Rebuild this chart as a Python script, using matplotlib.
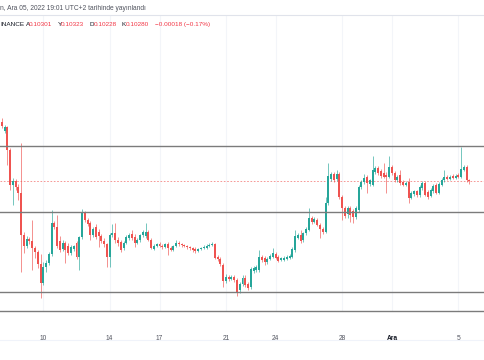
import matplotlib
matplotlib.use("Agg")
import matplotlib.pyplot as plt
import numpy as np

# ---- data: DOGE 4h candles (prices), Nov 7 12:00 -> Dec 5 ----
start_day = 7.5          # day number (November based), Nov 7 12:00
bar_hours = 4

opens = [0.1146, 0.1128, 0.1136, 0.1090, 0.1020, 0.1028, 0.1016, 0.1004, 0.0920, 0.0898,
         0.0912, 0.0908, 0.0894, 0.0886, 0.0862, 0.0824, 0.0856, 0.0864, 0.0882, 0.0944,
         0.0936, 0.0908, 0.0892, 0.0904, 0.0898, 0.0884, 0.0892, 0.0904, 0.0876, 0.0916,
         0.0964, 0.0950, 0.0944, 0.0920, 0.0936, 0.0926, 0.0918, 0.0908, 0.0902, 0.0876,
         0.0920, 0.0924, 0.0910, 0.0906, 0.0894, 0.0904, 0.0914, 0.0922, 0.0916, 0.0904,
         0.0910, 0.0920, 0.0918, 0.0926, 0.0910, 0.0892, 0.0898, 0.0902, 0.0898, 0.0896,
         0.0902, 0.0894, 0.0890, 0.0898, 0.0904, 0.0902, 0.0900, 0.0898, 0.0896, 0.0894,
         0.0892, 0.0888, 0.0892, 0.0894, 0.0894, 0.0898, 0.0900, 0.0902, 0.0876, 0.0872,
         0.0860, 0.0828, 0.0836, 0.0832, 0.0836, 0.0830, 0.0810, 0.0822, 0.0834, 0.0822,
         0.0816, 0.0848, 0.0850, 0.0850, 0.0876, 0.0874, 0.0866, 0.0872, 0.0876, 0.0882,
         0.0876, 0.0870, 0.0870, 0.0872, 0.0874, 0.0876, 0.0890, 0.0914, 0.0920, 0.0910,
         0.0924, 0.0930, 0.0954, 0.0946, 0.0950, 0.0940, 0.0932, 0.0926, 0.0984, 0.1032,
         0.1042, 0.1032, 0.1042, 0.0996, 0.0974, 0.0962, 0.0974, 0.0968, 0.0956, 0.0970,
         0.1016, 0.1026, 0.1036, 0.1022, 0.1020, 0.1046, 0.1054, 0.1048, 0.1044, 0.1040,
         0.1036, 0.1056, 0.1044, 0.1030, 0.1040, 0.1026, 0.1020, 0.1026, 0.0994, 0.1002,
         0.1008, 0.1000, 0.1014, 0.1024, 0.1006, 0.0998, 0.1008, 0.1020, 0.1004, 0.1020,
         0.1030, 0.1036, 0.1032, 0.1038, 0.1034, 0.1040, 0.1036, 0.1050, 0.1056, 0.10301]

closes = [0.1138, 0.1136, 0.1090, 0.1020, 0.1028, 0.1016, 0.1004, 0.0920, 0.0898, 0.0912,
          0.0908, 0.0894, 0.0886, 0.0862, 0.0824, 0.0856, 0.0864, 0.0882, 0.0944, 0.0936,
          0.0898, 0.0890, 0.0904, 0.0890, 0.0884, 0.0896, 0.0898, 0.0876, 0.0916, 0.0964,
          0.0950, 0.0942, 0.0920, 0.0932, 0.0916, 0.0918, 0.0908, 0.0902, 0.0876, 0.0920,
          0.0924, 0.0910, 0.0904, 0.0890, 0.0904, 0.0916, 0.0920, 0.0914, 0.0904, 0.0910,
          0.0920, 0.0926, 0.0926, 0.0910, 0.0894, 0.0898, 0.0902, 0.0898, 0.0896, 0.0902,
          0.0894, 0.0890, 0.0898, 0.0904, 0.0902, 0.0900, 0.0898, 0.0896, 0.0894, 0.0890,
          0.0888, 0.0892, 0.0894, 0.0896, 0.0898, 0.0900, 0.0902, 0.0874, 0.0872, 0.0862,
          0.0828, 0.0836, 0.0832, 0.0836, 0.0830, 0.0806, 0.0822, 0.0834, 0.0820, 0.0814,
          0.0852, 0.0854, 0.0856, 0.0876, 0.0870, 0.0866, 0.0872, 0.0878, 0.0884, 0.0874,
          0.0868, 0.0874, 0.0874, 0.0876, 0.0878, 0.0892, 0.0918, 0.0920, 0.0908, 0.0924,
          0.0932, 0.0954, 0.0946, 0.0952, 0.0940, 0.0932, 0.0926, 0.0984, 0.1038, 0.1042,
          0.1030, 0.1042, 0.0996, 0.0974, 0.0958, 0.0974, 0.0960, 0.0956, 0.0974, 0.1016,
          0.1026, 0.1034, 0.1024, 0.1030, 0.1050, 0.1054, 0.1044, 0.1038, 0.1036, 0.1036,
          0.1056, 0.1044, 0.1030, 0.1036, 0.1024, 0.1020, 0.1024, 0.0994, 0.1004, 0.1008,
          0.1000, 0.1016, 0.1024, 0.1000, 0.0996, 0.1010, 0.1018, 0.1004, 0.1022, 0.1030,
          0.1036, 0.1032, 0.1036, 0.1034, 0.1038, 0.1036, 0.1052, 0.1056, 0.1030, 0.10280]

highs = [0.1154, 0.1140, 0.1138, 0.1094, 0.1034, 0.1032, 0.1022, 0.1104, 0.0926, 0.0918,
         0.0916, 0.0950, 0.0898, 0.0890, 0.0882, 0.0866, 0.0870, 0.0886, 0.0970, 0.0948,
         0.0960, 0.0918, 0.0910, 0.0908, 0.0904, 0.0900, 0.0900, 0.0908, 0.0918, 0.0972,
         0.0968, 0.0954, 0.0948, 0.0936, 0.0942, 0.0932, 0.0922, 0.0914, 0.0904, 0.0924,
         0.0942, 0.0944, 0.0916, 0.0910, 0.0908, 0.0920, 0.0924, 0.0930, 0.0922, 0.0914,
         0.0922, 0.0930, 0.0944, 0.0930, 0.0914, 0.0902, 0.0904, 0.0906, 0.0902, 0.0904,
         0.0906, 0.0898, 0.0900, 0.0910, 0.0908, 0.0904, 0.0902, 0.0900, 0.0898, 0.0896,
         0.0896, 0.0894, 0.0896, 0.0900, 0.0902, 0.0904, 0.0906, 0.0904, 0.0880, 0.0876,
         0.0864, 0.0842, 0.0840, 0.0840, 0.0840, 0.0834, 0.0826, 0.0840, 0.0840, 0.0826,
         0.0856, 0.0858, 0.0860, 0.0890, 0.0880, 0.0878, 0.0876, 0.0882, 0.0894, 0.0886,
         0.0880, 0.0876, 0.0878, 0.0880, 0.0882, 0.0896, 0.0930, 0.0924, 0.0930, 0.0926,
         0.0936, 0.0974, 0.0958, 0.0956, 0.0954, 0.0944, 0.0936, 0.0996, 0.1064, 0.1046,
         0.1046, 0.1050, 0.1046, 0.1000, 0.0978, 0.0978, 0.0978, 0.0972, 0.0978, 0.1020,
         0.1030, 0.1042, 0.1040, 0.1032, 0.1078, 0.1058, 0.1058, 0.1052, 0.1064, 0.1046,
         0.1078, 0.1060, 0.1048, 0.1040, 0.1050, 0.1030, 0.1028, 0.1034, 0.1008, 0.1010,
         0.1010, 0.1020, 0.1028, 0.1028, 0.1010, 0.1014, 0.1022, 0.1024, 0.1026, 0.1034,
         0.1050, 0.1040, 0.1040, 0.1042, 0.1042, 0.1044, 0.1096, 0.1060, 0.1060, 0.10323]

lows = [0.1134, 0.1124, 0.1060, 0.1010, 0.0980, 0.1010, 0.0990, 0.0846, 0.0884, 0.0894,
        0.0902, 0.0850, 0.0874, 0.0854, 0.0794, 0.0820, 0.0846, 0.0860, 0.0878, 0.0932,
        0.0894, 0.0886, 0.0888, 0.0864, 0.0880, 0.0880, 0.0888, 0.0872, 0.0850, 0.0912,
        0.0946, 0.0938, 0.0910, 0.0916, 0.0912, 0.0896, 0.0904, 0.0896, 0.0856, 0.0856,
        0.0916, 0.0904, 0.0898, 0.0886, 0.0890, 0.0902, 0.0910, 0.0910, 0.0896, 0.0902,
        0.0906, 0.0916, 0.0914, 0.0908, 0.0892, 0.0890, 0.0896, 0.0896, 0.0892, 0.0894,
        0.0880, 0.0888, 0.0888, 0.0896, 0.0898, 0.0896, 0.0896, 0.0892, 0.0890, 0.0886,
        0.0884, 0.0886, 0.0890, 0.0892, 0.0892, 0.0896, 0.0898, 0.0872, 0.0868, 0.0858,
        0.0816, 0.0824, 0.0828, 0.0830, 0.0826, 0.0798, 0.0804, 0.0818, 0.0816, 0.0810,
        0.0812, 0.0844, 0.0846, 0.0846, 0.0866, 0.0860, 0.0862, 0.0870, 0.0874, 0.0872,
        0.0866, 0.0868, 0.0868, 0.0870, 0.0872, 0.0874, 0.0886, 0.0912, 0.0904, 0.0906,
        0.0920, 0.0928, 0.0942, 0.0944, 0.0938, 0.0914, 0.0922, 0.0924, 0.0980, 0.1028,
        0.1026, 0.1028, 0.0992, 0.0950, 0.0954, 0.0954, 0.0946, 0.0944, 0.0952, 0.0966,
        0.1012, 0.1022, 0.1004, 0.1018, 0.1018, 0.1042, 0.1040, 0.1034, 0.1034, 0.1004,
        0.1034, 0.1040, 0.1026, 0.1026, 0.1020, 0.1018, 0.1018, 0.0984, 0.0992, 0.0998,
        0.0996, 0.0996, 0.1010, 0.0998, 0.0992, 0.0996, 0.1004, 0.1002, 0.1002, 0.1018,
        0.1026, 0.1030, 0.1030, 0.1032, 0.1032, 0.1034, 0.1034, 0.1048, 0.1026, 0.10228]

tick_days = [10, 14, 17, 21, 24, 28, 31, 35]
tick_labels = ["10", "14", "17", "21", "24", "28", "Ara", "5"]
levels = [0.1098, 0.0966, 0.0806]
last_price = 0.10280
y_range = (0.0768, 0.1360)
x_range = (7.3916, 36.608)

header = "n, Ara 05, 2022 19:01 UTC+2 tarihinde yayınlandı"
legend_parts = [("INANCE", 0.0, "#131722"), ("A", 26.0, "#131722"), ("0.10301", 29.0, "#f23645"),
                ("Y", 57.5, "#131722"), ("0.10323", 61.0, "#f23645"), ("D", 89.5, "#131722"),
                ("0.10228", 93.5, "#f23645"), ("K", 122.0, "#131722"), ("0.10280", 126.0, "#f23645"),
                ("\u22120.00018 (\u22120.17%)", 155.0, "#f23645")]

GREEN = "#26a69a"
RED = "#ef5350"
W, H = 485, 360

plt.rcParams['font.family'] = ['Liberation Sans', 'DejaVu Sans']

fig = plt.figure(figsize=(W / 100, H / 100), dpi=100)
fig.patch.set_facecolor("white")
ax = fig.add_axes([0, 1 - 311 / H, 1, 296 / H])

o = np.array(opens)
c = np.array(closes)
hi = np.array(highs)
lo = np.array(lows)
x = start_day + np.arange(len(o)) * bar_hours / 24.0
up = c >= o
cols = np.where(up, GREEN, RED)

# grid
for d in tick_days:
    ax.axvline(d, color="#f3f5f9", lw=0.8, zorder=0)

# wicks and bodies
ax.vlines(x, lo, hi, colors=cols, lw=0.6, alpha=0.75, zorder=2)
body_h = np.maximum(np.abs(c - o), 0.00012)
ax.bar(x, body_h, bottom=np.minimum(o, c), width=0.12, color=cols, linewidth=0, zorder=3)

# horizontal drawn levels
for lv in levels:
    ax.axhline(lv, color="#7b7b7b", lw=1.0, zorder=4)
ax.axhline(last_price, color=RED, lw=0.6, ls=(0, (2, 2)), alpha=0.7, zorder=1)

ax.set_xlim(*x_range)
ax.set_ylim(*y_range)
ax.set_yticks([])
ax.set_xticks(tick_days)
ax.set_xticklabels(tick_labels)
ax.tick_params(axis="x", length=0, pad=17, labelsize=4.8, colors="#50535e")
ax.get_xticklabels()[6].set_fontweight("bold")
ax.get_xticklabels()[6].set_color("#131722")
for s in ["left", "right"]:
    ax.spines[s].set_visible(False)
ax.spines["top"].set_color("#e0e3eb")
ax.spines["top"].set_linewidth(0.8)
ax.spines["bottom"].set_color("#7b7b7b")
ax.spines["bottom"].set_linewidth(1.0)

# header texts
fig.text(0, 1 - 9 / H, header, fontsize=4.8, color="#50535e", va="center", ha="left")
for txt, px, col in legend_parts:
    fig.text(px / W, 1 - 24.5 / H, txt, fontsize=4.6, color=col, va="center", ha="left")

# bottom time-axis separator
fig.add_artist(plt.Line2D([0, 1], [1 - 340 / H, 1 - 340 / H], color="#f0f3fa", lw=0.8))

fig.savefig("out.png", dpi=100, facecolor="white")
